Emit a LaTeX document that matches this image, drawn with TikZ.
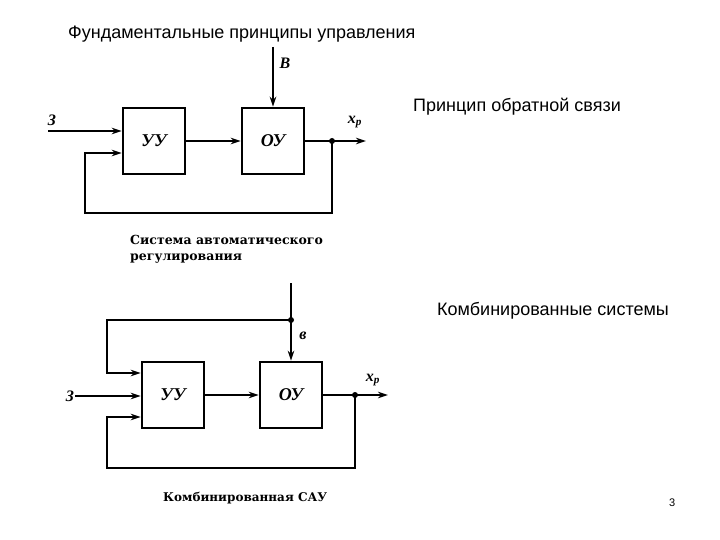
\documentclass[tikz,border=0pt]{standalone}
\usepackage{fontspec}
\setmainfont{Liberation Sans}
\newfontfamily\scanfont{Liberation Serif}
\newfontfamily\capfont{DejaVu Serif}
\usetikzlibrary{positioning, arrows.meta}

\begin{document}
\begin{tikzpicture}[x=1pt, y=-1pt, node distance=119pt, on grid, auto,
    block/.style={draw, line width=2.6pt, minimum width=62pt, minimum height=66pt,
      font=\scanfont\bfseries\itshape\fontsize{18}{18}\selectfont},
    wire/.style={line width=2.6pt, -{Stealth[length=10pt,width=6.5pt]}},
    sig/.style={font=\scanfont\bfseries\itshape\fontsize{16}{16}\selectfont, inner sep=1pt},
    dot/.style={circle, fill, inner sep=0pt, minimum size=6pt},
    heading/.style={anchor=base west, inner sep=0pt, font=\fontsize{18}{18}\selectfont},
    caption/.style={inner sep=0pt, align=left, font=\capfont\bfseries\fontsize{12.5}{16}\selectfont}]
            \useasboundingbox (0,0) rectangle (720,540);
            % feedback loop
            \node [block] (yy1) at (154,141) {УУ};
            \node [block] [right=of yy1] (oy1) {ОУ};
            \node [sig] (z1) at (52,120) {З};
            \coordinate (in1) at (48,131);
            \coordinate (d1) at (273,47);
            \node [sig] (v1) at (285,63) {В};
            \node [dot] (br1) at (332,141) {};
            \coordinate (out1) at (366,141);
            \node [sig] (xp1) at (355,122) {x\textsubscript{р}};
            \coordinate (c1) at (85,213);
            \path[wire]
            	(in1) edge (in1 -| yy1.west)
            	(yy1) edge (oy1)
            	(d1) edge (oy1.north)
            	(oy1) edge (out1);
            \draw[wire] (br1.center) |- (c1) |- ([yshift=-12pt]yy1.west);
            % combined system
            \node [block] (yy2) at (173,395) {УУ};
            \node [block] [right=118pt of yy2] (oy2) {ОУ};
            \node [sig] (z2) at (70,396) {З};
            \coordinate (d2) at (291,283);
            \node [dot] (j2) at (291,320) {};
            \node [sig] (v2) at (303,336) {в};
            \node [dot] (br2) at (355,395) {};
            \coordinate (out2) at (388,395);
            \node [sig] (xp2) at (373,380) {x\textsubscript{р}};
            \coordinate (c2) at (107,320);
            \coordinate (c3) at (107,468);
            \path[wire]
            	(z2) edge (z2 -| yy2.west)
            	(yy2) edge (oy2)
            	(d2) edge (oy2.north)
            	(oy2) edge (out2);
            \draw[wire] (j2.center) -- (c2) |- ([yshift=22pt]yy2.west);
            \draw[wire] (br2.center) |- (c3) |- ([yshift=-22pt]yy2.west);
            % texts
            \node [heading] (title) at (68,39) {Фундаментальные принципы управления};
            \node [heading] (p1) at (413,112) {Принцип обратной связи};
            \node [heading] (p2) at (437,315) {Комбинированные системы};
            \node [caption, anchor=north west] (cap1) at (130,235) {Система автоматического\\регулирования};
            \node [caption, anchor=base west, font=\capfont\bfseries\fontsize{12}{14}\selectfont] (cap2) at (163,501) {Комбинированная САУ};
            \node [anchor=base west, inner sep=0pt, font=\fontsize{11}{11}\selectfont] (pg) at (669,506) {3};
            \end{tikzpicture}
\end{document}
